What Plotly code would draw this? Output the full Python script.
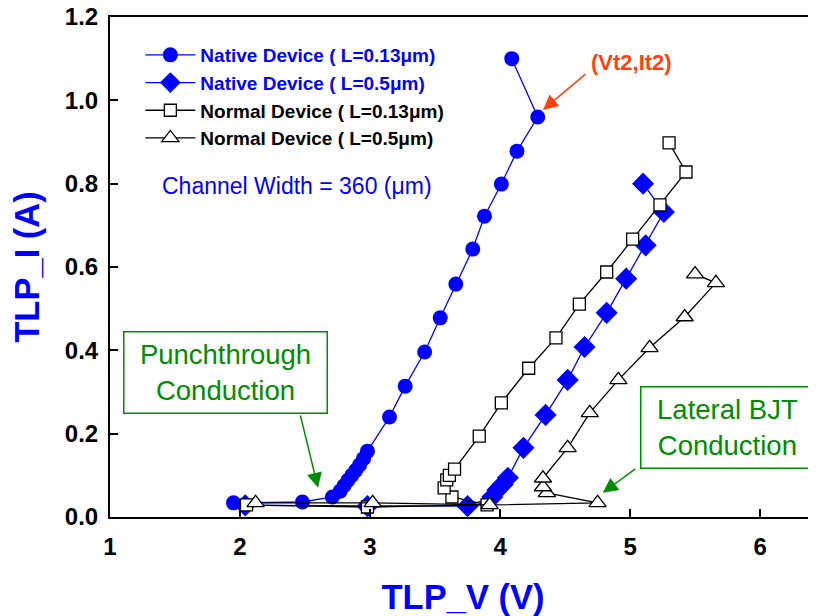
import plotly.graph_objects as go

# ---- data ----
nat13_v = [1.95, 2.48, 2.71, 2.77, 2.80, 2.83, 2.86, 2.89, 2.92, 2.95, 2.98, 3.15, 3.27, 3.42, 3.54, 3.66, 3.79, 3.88, 4.01, 4.13, 4.29, 4.09]
nat13_i = [0.034, 0.036, 0.048, 0.062, 0.075, 0.088, 0.100, 0.112, 0.125, 0.140, 0.158, 0.240, 0.314, 0.396, 0.478, 0.559, 0.643, 0.722, 0.799, 0.878, 0.960, 1.100]

nat05_v = [2.04, 2.98, 3.75, 3.94, 3.98, 4.02, 4.06, 4.18, 4.35, 4.52, 4.65, 4.82, 4.97, 5.12, 5.26, 5.10]
nat05_i = [0.028, 0.026, 0.026, 0.048, 0.065, 0.078, 0.094, 0.166, 0.245, 0.329, 0.408, 0.490, 0.572, 0.652, 0.732, 0.800]

norm13_v = [2.05, 2.98, 3.90, 3.63, 3.57, 3.59, 3.61, 3.65, 3.84, 4.01, 4.22, 4.43, 4.61, 4.82, 5.02, 5.23, 5.43, 5.30]
norm13_i = [0.029, 0.024, 0.029, 0.048, 0.070, 0.089, 0.100, 0.115, 0.194, 0.274, 0.357, 0.430, 0.511, 0.588, 0.667, 0.749, 0.828, 0.898]

norm05_v = [2.12, 3.02, 3.92, 4.75, 4.36, 4.33, 4.33, 4.52, 4.69, 4.91, 5.15, 5.42, 5.66, 5.50]
norm05_i = [0.034, 0.034, 0.029, 0.034, 0.058, 0.072, 0.093, 0.166, 0.250, 0.329, 0.406, 0.480, 0.562, 0.583]

series_names = [
    "Native Device ( L=0.13\u03bcm)",
    "Native Device ( L=0.5\u03bcm)",
    "Normal Device ( L=0.13\u03bcm)",
    "Normal Device ( L=0.5\u03bcm)",
]

x_ticks = [1, 2, 3, 4, 5, 6]
y_ticks = [0.0, 0.2, 0.4, 0.6, 0.8, 1.0, 1.2]

BLUE = "#0000FF"
GREEN = "#008C00"
ORANGE = "#FF4010"
FONT = "Arial, Liberation Sans, sans-serif"

fig = go.Figure()

fig.add_trace(go.Scatter(
    x=nat13_v, y=nat13_i, mode="lines+markers",
    name=f'<span style="color:{BLUE}"><b>{series_names[0]}</b></span>',
    line=dict(color=BLUE, width=1.3),
    marker=dict(symbol="circle", size=15, color=BLUE)))
fig.add_trace(go.Scatter(
    x=nat05_v, y=nat05_i, mode="lines+markers",
    name=f'<span style="color:{BLUE}"><b>{series_names[1]}</b></span>',
    line=dict(color=BLUE, width=1.3),
    marker=dict(symbol="diamond", size=17, color=BLUE)))
fig.add_trace(go.Scatter(
    x=norm13_v, y=norm13_i, mode="lines+markers",
    name=f'<b>{series_names[2]}</b>',
    line=dict(color="black", width=1.3),
    marker=dict(symbol="square", size=12, color="white", line=dict(color="black", width=1.3))))
fig.add_trace(go.Scatter(
    x=norm05_v, y=norm05_i, mode="lines+markers",
    name=f'<b>{series_names[3]}</b>',
    line=dict(color="black", width=1.3),
    marker=dict(symbol="triangle-up", size=15, color="white", line=dict(color="black", width=1.3))))

annotations = [
    dict(x=4.33, y=0.977, xref="x", yref="y", text="", showarrow=True,
         ax=44, ay=-37, arrowhead=2, arrowsize=2, arrowwidth=1.5, arrowcolor=ORANGE),
    dict(x=5.01, y=1.092, xref="x", yref="y", text="<b>(Vt2,It2)</b>", showarrow=False,
         xanchor="center", yanchor="middle", font=dict(family=FONT, size=22, color=ORANGE)),
    dict(x=1.385, y=0.794, xref="x", yref="y", text="Channel Width = 360 (\u03bcm)", showarrow=False,
         xanchor="left", yanchor="middle", font=dict(family=FONT, size=23, color=BLUE)),
    dict(x=1.885, y=0.348, xref="x", yref="y", text="Punchthrough<br>Conduction", showarrow=False,
         xanchor="center", yanchor="middle", align="center",
         font=dict(family=FONT, size=27.5, color=GREEN),
         bordercolor=GREEN, borderwidth=1.5, borderpad=4, bgcolor="white", width=194, height=72),
    dict(x=2.6, y=0.07, xref="x", yref="y", text="", showarrow=True,
         ax=-18, ay=-74, arrowhead=2, arrowsize=2, arrowwidth=1.5, arrowcolor=GREEN),
    dict(x=5.75, y=0.216, xref="x", yref="y", text="Lateral BJT<br>Conduction", showarrow=False,
         xanchor="center", yanchor="middle", align="center",
         font=dict(family=FONT, size=27.5, color=GREEN),
         bordercolor=GREEN, borderwidth=1.5, borderpad=4, bgcolor="white", width=164, height=72),
    dict(x=4.79, y=0.058, xref="x", yref="y", text="", showarrow=True,
         ax=34, ay=-25, arrowhead=2, arrowsize=2, arrowwidth=1.5, arrowcolor=GREEN),
]

fig.update_layout(
    width=808, height=608,
    margin=dict(l=102, r=0, t=9, b=99, pad=0),
    paper_bgcolor="white", plot_bgcolor="white",
    font=dict(family=FONT, color="black"),
    showlegend=True,
    legend=dict(x=0.043, y=0.962, xanchor="left", yanchor="top",
                bgcolor="rgba(0,0,0,0)", borderwidth=0,
                font=dict(family=FONT, size=19, color="black"),
                itemwidth=50, tracegroupgap=0),
    annotations=annotations,
)

fig.update_xaxes(
    range=[1, 6.43], tickvals=x_ticks, ticktext=[f"<b>{v}</b>" for v in x_ticks],
    showgrid=False, zeroline=False, showline=True, linecolor="black", linewidth=2,
    mirror=True, ticks="inside", ticklen=8, tickwidth=1.5, tickcolor="black",
    tickfont=dict(family=FONT, size=24, color="black"), ticklabelstandoff=7,
    ticklabeloverflow="allow",
    title=dict(text="<b>TLP_V (V)</b>", font=dict(family=FONT, size=34.5, color=BLUE), standoff=26),
    automargin=False,
)
fig.update_yaxes(
    range=[0, 1.2], tickvals=y_ticks, ticktext=[f"<b>{v:.1f}</b>" for v in y_ticks],
    showgrid=False, zeroline=False, showline=True, linecolor="black", linewidth=2,
    ticks="inside", ticklen=8, tickwidth=1.5, tickcolor="black",
    tickfont=dict(family=FONT, size=24, color="black"), ticklabelstandoff=5,
    ticklabeloverflow="allow",
    title=dict(text="<b>TLP_I (A)</b>", font=dict(family=FONT, size=34.5, color=BLUE), standoff=18),
    automargin=False,
)

fig.write_html("out.html")
